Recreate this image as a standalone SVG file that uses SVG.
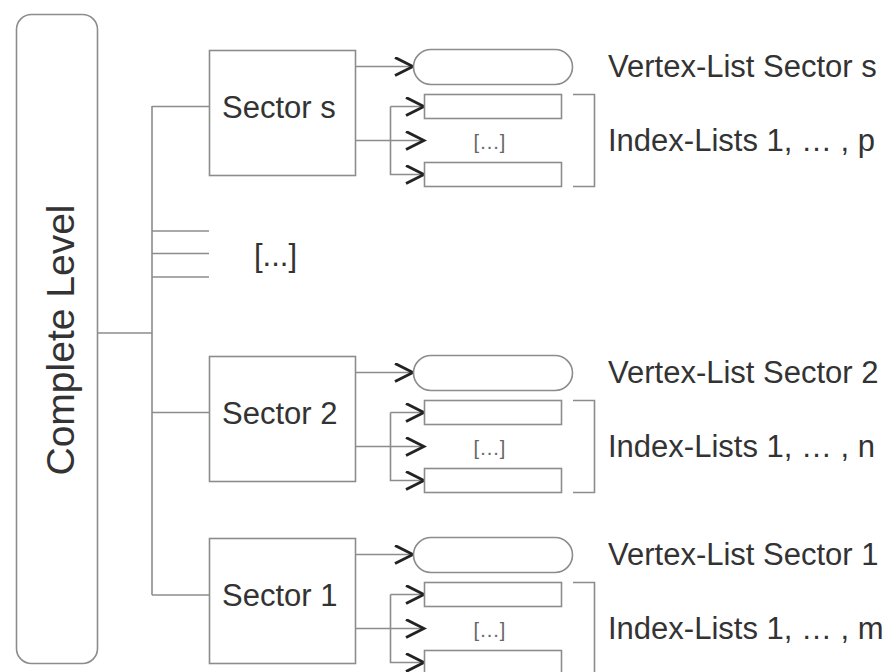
<svg xmlns="http://www.w3.org/2000/svg" width="891" height="672" viewBox="0 0 891 672">
  <style>
    .box { fill: #ffffff; stroke: #8c8c8c; stroke-width: 1.6; }
    .ln { fill: none; stroke: #8c8c8c; stroke-width: 1.6; }
    .arr { fill: none; stroke: #8c8c8c; stroke-width: 1.6; marker-end: url(#chev); }
    .t { font-family: "Liberation Sans", Arial, sans-serif; fill: #333333; }
    .big { font-size: 31px; }
    .small { font-size: 20px; fill: #666666; text-anchor: middle; letter-spacing: 1px; }
  </style>
  <defs>
    <marker id="chev" markerUnits="userSpaceOnUse" markerWidth="22" markerHeight="20" viewBox="0 0 22 20" refX="19" refY="10" orient="auto">
      <path d="M1,1 L19,10 L1,19" fill="none" stroke="#222222" stroke-width="2.9" stroke-linejoin="miter"/>
    </marker>
  </defs>
  <rect width="891" height="672" fill="#ffffff"/>

  <g id="connectors">
    <path class="ln" d="M97,333 H152"/>
    <path class="ln" d="M152,106 V595"/>
    <path class="ln" d="M152,106.5 H209.5"/>
    <path class="ln" d="M152,231 H209"/>
    <path class="ln" d="M152,253.5 H209"/>
    <path class="ln" d="M152,277 H209"/>
    <path class="ln" d="M152,412.5 H209.5"/>
    <path class="ln" d="M152,595 H209.5"/>
    <!-- sector s -->
    <path class="arr" d="M355.5,66.5 H413"/>
    <path class="arr" d="M355.5,140.5 H424"/>
    <path class="arr" d="M390.5,106.5 H424"/>
    <path class="arr" d="M390.5,106.5 V174.5 H424"/>
    <!-- sector 2 -->
    <path class="arr" d="M355.5,372.5 H413"/>
    <path class="arr" d="M355.5,446.5 H424"/>
    <path class="arr" d="M390.5,412.5 H424"/>
    <path class="arr" d="M390.5,412.5 V480.5 H424"/>
    <!-- sector 1 -->
    <path class="arr" d="M355.5,554.5 H413"/>
    <path class="arr" d="M355.5,628.5 H424"/>
    <path class="arr" d="M390.5,594.5 H424"/>
    <path class="arr" d="M390.5,594.5 V662.5 H424"/>
  </g>

  <g id="complete-level">
    <rect class="box" x="16.5" y="14.5" width="81" height="649" rx="15" ry="15"/>
    <text class="t" font-size="39" text-anchor="middle" transform="translate(74,340) rotate(-90)">Complete Level</text>
  </g>

  <g id="ellipsis-sectors">
    <text class="t" font-size="31" fill="#444444" x="254" y="266">[...]</text>
  </g>

  <g id="sector-s">
    <rect class="box" x="209.5" y="50.5" width="146" height="125"/>
    <text class="t big" x="222" y="118">Sector s</text>
  </g>
  <g id="vertex-list-s">
    <rect class="box" x="413.5" y="49.5" width="159" height="35" rx="17.5" ry="17.5"/>
    <text class="t big" x="608" y="77">Vertex-List Sector s</text>
  </g>
  <g id="index-lists-s">
    <rect class="box" x="424.5" y="94.5" width="137" height="24"/>
    <text class="t small" x="490" y="149">[...]</text>
    <rect class="box" x="424.5" y="162.5" width="137" height="24"/>
    <path class="ln" d="M573,94.5 H594.5 V186.5 H573"/>
    <text class="t big" x="608" y="151">Index-Lists 1, … , p</text>
  </g>

  <g id="sector-2">
    <rect class="box" x="209.5" y="356.5" width="146" height="125"/>
    <text class="t big" x="222" y="424">Sector 2</text>
  </g>
  <g id="vertex-list-2">
    <rect class="box" x="413.5" y="355.5" width="159" height="35" rx="17.5" ry="17.5"/>
    <text class="t big" x="608" y="383">Vertex-List Sector 2</text>
  </g>
  <g id="index-lists-2">
    <rect class="box" x="424.5" y="400.5" width="137" height="24"/>
    <text class="t small" x="490" y="455">[...]</text>
    <rect class="box" x="424.5" y="468.5" width="137" height="24"/>
    <path class="ln" d="M573,400.5 H594.5 V492.5 H573"/>
    <text class="t big" x="608" y="457">Index-Lists 1, … , n</text>
  </g>

  <g id="sector-1">
    <rect class="box" x="209.5" y="538.5" width="146" height="125"/>
    <text class="t big" x="222" y="606">Sector 1</text>
  </g>
  <g id="vertex-list-1">
    <rect class="box" x="413.5" y="537.5" width="159" height="35" rx="17.5" ry="17.5"/>
    <text class="t big" x="608" y="565">Vertex-List Sector 1</text>
  </g>
  <g id="index-lists-1">
    <rect class="box" x="424.5" y="582.5" width="137" height="24"/>
    <text class="t small" x="490" y="637">[...]</text>
    <rect class="box" x="424.5" y="650.5" width="137" height="24"/>
    <path class="ln" d="M573,582.5 H594.5 V674.5 H573"/>
    <text class="t big" x="608" y="639">Index-Lists 1, … , m</text>
  </g>
</svg>
